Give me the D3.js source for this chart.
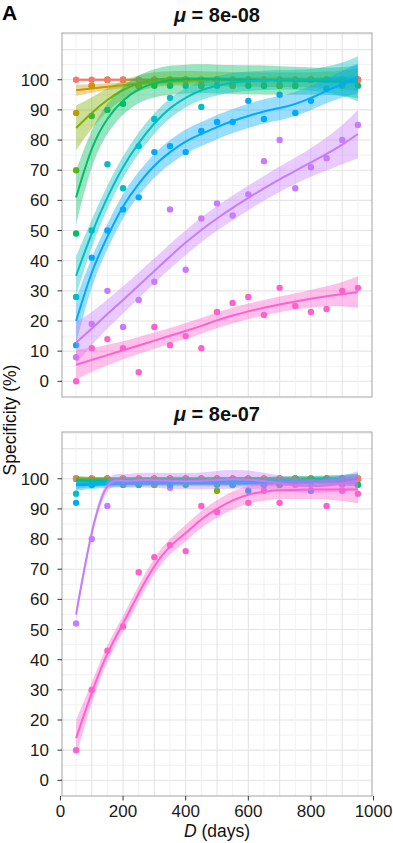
<!DOCTYPE html>
<html>
<head>
<meta charset="utf-8">
<script src="https://cdn.jsdelivr.net/npm/d3@7"></script>
<style>
  body { margin: 0; background: #fff; }
  svg { display: block; font-family: "Liberation Sans", Arial, sans-serif; }
</style>
</head>
<body>
<div id="chart"></div>
<script>
// Data
const colors = ['#F8766D', '#CD9600', '#7CAE00', '#00BE67', '#00BFC4', '#00A9FF', '#C77CFF', '#FF61CC'];
const days = [50, 100, 150, 200, 250, 300, 350, 400, 450, 500, 550, 600, 650, 700, 750, 800, 850, 900, 950];
const xTicks = [0, 200, 400, 600, 800, 1000];
const yTicks = [0, 10, 20, 30, 40, 50, 60, 70, 80, 90, 100];
const titles = ['8e-08', '8e-07'];

// mu = 8e-08
const topPoints = [
    [100, 100, 100, 100, 100, 100, 100, 100, 100, 100, 100, 100, 100, 100, 100, 100, 100, 100, 100],
    [89, 98, 100, 100, 98, 100, 100, 100, 100, 100, 98, 100, 100, 100, 100, 100, 100, 100, 100],
    [70, 98, 100, 100, 98, 100, 100, 100, 98, 100, 100, 100, 100, 98, 100, 100, 100, 100, 100],
    [49, 88, 90, 92, 98, 98, 98, 100, 98, 100, 100, 98, 98, 98, 98, 100, 100, 100, 98],
    [28, 50, 72, 64, 78, 87, 94, 98, 91, 98, 98, 100, 98, 100, 98, 100, 100, 98, 100],
    [12, 41, 50, 57, 61, 76, 78, 76, 83, 86, 86, 93, 87, 95, 89, 93, 97, 99, 100],
    [8, 19, 30, 18, 27, 33, 57, 37, 54, 59, 55, 62, 73, 80, 64, 71, 74, 80, 85],
    [0, 11, 14, 11, 3, 18, 12, 15, 11, 23, 26, 28, 22, 31, 25, 23, 24, 30, 31]
];
const topFit = [
    [100, 100, 100, 100, 100, 100, 100, 100, 100, 100, 100, 100, 100, 100, 100, 100, 100, 100, 100],
    [96.5, 97.1, 97.7, 98.2, 98.7, 99.1, 99.4, 99.7, 99.9, 100, 100, 100, 100, 100, 100, 100, 100, 100, 100],
    [84, 89, 93.3, 96.6, 98.8, 100, 100.4, 100.5, 100.4, 100.3, 100.2, 100.1, 100, 100, 100, 100, 100, 100, 100],
    [61, 77, 87, 93, 96.8, 98.8, 99.8, 100.2, 100.3, 100.2, 100.1, 100, 99.9, 99.8, 99.7, 99.6, 99.5, 99.4, 99.3],
    [35, 49, 61, 71, 79, 85.5, 90.5, 94, 96.5, 98, 99, 99.5, 99.8, 100, 100, 100, 100.1, 100.2, 100.3],
    [20, 36, 48, 58, 65.5, 71.5, 76, 79.5, 82, 84.3, 86.3, 88, 89.5, 90.6, 92, 94, 96.3, 98.5, 100.5],
    [12.8, 17.5, 22.3, 27, 31.8, 36.6, 41.4, 46, 50.2, 54, 57.5, 60.8, 64, 67, 69.8, 72.6, 75.4, 78.5, 82],
    [5.5, 7.1, 8.7, 10.3, 11.9, 13.5, 15.1, 16.7, 18.4, 20.2, 21.8, 23.2, 24.4, 25.5, 26.5, 27.4, 28.2, 28.9, 29.6]
];
const topBand = [
    [0.4, 0.4, 0.4, 0.4, 0.4, 0.4, 0.4, 0.4, 0.4, 0.4, 0.4, 0.4, 0.4, 0.4, 0.4, 0.4, 0.4, 0.4, 0.4],
    [1.8, 1.4, 1.1, 0.9, 0.8, 0.8, 0.8, 0.8, 0.8, 0.8, 0.8, 0.8, 0.8, 0.8, 0.8, 0.9, 1, 1.2, 1.5],
    [7.5, 5.2, 3.9, 3.1, 2.7, 2.5, 2.4, 2.4, 2.4, 2.4, 2.4, 2.4, 2.4, 2.4, 2.4, 2.5, 2.7, 3.1, 3.8],
    [9, 6.2, 5, 4.6, 4.6, 4.7, 4.8, 4.8, 4.8, 4.8, 4.8, 4.8, 4.8, 4.7, 4.6, 4.5, 4.5, 4.8, 5.5],
    [6.5, 4.6, 3.9, 3.6, 3.5, 3.4, 3.3, 3.2, 3.2, 3.2, 3.2, 3.2, 3.2, 3.2, 3.3, 3.6, 4.3, 5.5, 7.5],
    [7.5, 5, 4.2, 4, 4, 4, 4, 4, 4, 4, 4, 4, 4, 4, 4, 4, 4.1, 4.4, 5],
    [7, 5.5, 4.8, 4.5, 4.3, 4.2, 4.1, 4.1, 4.1, 4.1, 4.1, 4.1, 4.1, 4.2, 4.4, 4.8, 5.5, 6.5, 8],
    [5, 4, 3.4, 3, 2.8, 2.7, 2.6, 2.6, 2.6, 2.6, 2.6, 2.6, 2.6, 2.6, 2.7, 2.9, 3.3, 4, 5.2]
];

// mu = 8e-07
const bottomPoints = [
    [100, 100, 100, 100, 100, 100, 100, 100, 100, 100, 100, 100, 100, 100, 100, 100, 100, 100, 100],
    [100, 100, 100, 100, 100, 100, 100, 100, 100, 100, 100, 100, 100, 100, 100, 100, 100, 100, 100],
    [100, 100, 100, 98, 100, 98, 100, 100, 100, 96, 100, 100, 100, 100, 100, 100, 100, 100, 100],
    [100, 98, 100, 100, 98, 100, 100, 98, 100, 100, 100, 100, 100, 98, 100, 100, 100, 100, 98],
    [95, 98, 100, 100, 100, 98, 100, 100, 100, 98, 100, 100, 98, 100, 100, 100, 100, 100, 100],
    [92, 100, 100, 98, 98, 100, 98, 100, 100, 100, 98, 96, 98, 100, 100, 96, 100, 100, 100],
    [52, 80, 91, 100, 100, 100, 97, 100, 100, 100, 98, 100, 98, 98, 100, 98, 100, 98, 98],
    [10, 30, 43, 51, 69, 74, 78, 76, 91, 89, 98, 92, 96, 92, 98, 100, 91, 96, 95]
];
const bottomFit = [
    [100, 100, 100, 100, 100, 100, 100, 100, 100, 100, 100, 100, 100, 100, 100, 100, 100, 100, 100],
    [99.9, 99.9, 99.9, 99.9, 99.9, 99.9, 99.9, 99.9, 99.9, 99.9, 99.9, 99.9, 99.9, 99.9, 99.9, 99.9, 99.9, 99.9, 99.9],
    [99.4, 99.4, 99.4, 99.3, 99.3, 99.2, 99.2, 99.2, 99.1, 99.1, 99.2, 99.3, 99.4, 99.5, 99.6, 99.7, 99.8, 99.8, 99.9],
    [99.4, 99.3, 99.3, 99.3, 99.3, 99.3, 99.3, 99.3, 99.4, 99.4, 99.4, 99.4, 99.4, 99.4, 99.3, 99.3, 99.2, 99.1, 99],
    [98.2, 98.5, 98.8, 99, 99.2, 99.3, 99.4, 99.4, 99.4, 99.4, 99.4, 99.4, 99.4, 99.5, 99.6, 99.7, 99.8, 99.9, 100],
    [97.8, 98, 98.2, 98.3, 98.4, 98.5, 98.5, 98.5, 98.5, 98.5, 98.5, 98.5, 98.5, 98.6, 98.7, 98.9, 99.1, 99.4, 99.7],
    [55, 82, 97.5, 99.3, 99.5, 99.5, 99.3, 99.2, 99.3, 99.6, 99.8, 99.7, 99.2, 98.5, 97.9, 97.6, 97.8, 98.4, 99.3],
    [14, 29, 42, 52, 62, 71, 77.5, 82, 86.5, 90, 92.8, 94.7, 95.7, 96.2, 96.3, 96.4, 96.4, 96.4, 96.4]
];
const bottomBand = [
    [0.3, 0.3, 0.3, 0.3, 0.3, 0.3, 0.3, 0.3, 0.3, 0.3, 0.3, 0.3, 0.3, 0.3, 0.3, 0.3, 0.3, 0.3, 0.3],
    [0.4, 0.4, 0.4, 0.4, 0.4, 0.4, 0.4, 0.4, 0.4, 0.4, 0.4, 0.4, 0.4, 0.4, 0.4, 0.4, 0.4, 0.4, 0.4],
    [1.4, 1.2, 1.2, 1.2, 1.2, 1.2, 1.2, 1.2, 1.2, 1.2, 1.2, 1.2, 1.2, 1.2, 1.2, 1.2, 1.2, 1.3, 1.5],
    [1.4, 1.2, 1.2, 1.2, 1.2, 1.2, 1.2, 1.2, 1.2, 1.2, 1.2, 1.2, 1.2, 1.2, 1.2, 1.2, 1.2, 1.3, 1.5],
    [1.6, 1.3, 1.3, 1.3, 1.3, 1.3, 1.3, 1.3, 1.3, 1.3, 1.3, 1.3, 1.3, 1.3, 1.3, 1.3, 1.3, 1.4, 1.7],
    [1.8, 1.4, 1.2, 1.1, 1, 1, 1, 1, 1, 1, 1, 1, 1, 1, 1, 1.1, 1.3, 1.6, 2],
    [2, 1.6, 1.8, 2.2, 2.4, 2.5, 2.6, 2.7, 2.8, 3, 3.1, 3, 2.8, 2.6, 2.4, 2.3, 2.4, 2.7, 3.2],
    [6, 3.5, 2.8, 2.6, 2.6, 2.6, 2.6, 2.7, 2.8, 2.9, 3, 3, 3, 3, 3, 3.1, 3.3, 3.8, 4.5]
];

// Layout
const width = 393;
const height = 843;
const left = 62;
const right = 372;
const panels = [
    { top: 33, bottom: 397, points: topPoints, fit: topFit, band: topBand },
    { top: 432, bottom: 796, points: bottomPoints, fit: bottomFit, band: bottomBand }
];

const svg = d3.select('#chart')
    .append('svg')
    .attr('width', width)
    .attr('height', height);

svg.append('rect').attr('width', width).attr('height', height).attr('fill', '#fff');

const x = d3.scaleLinear().domain([5, 995]).range([left, right]);

panels.forEach((p, pi) => {
    const y = d3.scaleLinear().domain([-5.2, 115.5]).range([p.bottom, p.top]);
    const g = svg.append('g');

    svg.append('clipPath').attr('id', 'clip' + pi)
        .append('rect')
        .attr('x', left).attr('y', p.top)
        .attr('width', right - left).attr('height', p.bottom - p.top);

    // grid
    const hLines = d3.range(0, 116, 5);
    g.append('g')
        .selectAll('line')
        .data(hLines)
        .join('line')
        .attr('x1', left).attr('x2', right)
        .attr('y1', d => y(d)).attr('y2', d => y(d))
        .attr('stroke', d => d % 10 === 0 ? '#e4e4e4' : '#efefef')
        .attr('stroke-width', d => d % 10 === 0 ? 1.1 : 0.9);

    g.append('g')
        .selectAll('line')
        .data(days)
        .join('line')
        .attr('x1', d => x(d)).attr('x2', d => x(d))
        .attr('y1', p.top).attr('y2', p.bottom)
        .attr('stroke', d => d % 100 === 0 ? '#e4e4e4' : '#efefef')
        .attr('stroke-width', d => d % 100 === 0 ? 1.1 : 0.9);

    const plot = g.append('g').attr('clip-path', `url(#clip${pi})`);

    // points (last group first so the top row shows red)
    for (let k = colors.length - 1; k >= 0; k--) {
        plot.append('g')
            .selectAll('circle')
            .data(p.points[k])
            .join('circle')
            .attr('cx', (d, i) => x(days[i]))
            .attr('cy', d => y(d))
            .attr('r', 3.2)
            .attr('fill', colors[k]);
    }

    // smooth: ribbon + line per group
    colors.forEach((c, k) => {
        const fit = p.fit[k];
        const band = p.band[k];
        const area = d3.area()
            .curve(d3.curveNatural)
            .x((d, i) => x(days[i]))
            .y0((d, i) => y(fit[i] - band[i]))
            .y1((d, i) => y(fit[i] + band[i]));
        const line = d3.line()
            .curve(d3.curveNatural)
            .x((d, i) => x(days[i]))
            .y(d => y(d));

        plot.append('path')
            .attr('d', area(fit))
            .attr('fill', c)
            .attr('fill-opacity', 0.4);

        plot.append('path')
            .attr('d', line(fit))
            .attr('fill', 'none')
            .attr('stroke', c)
            .attr('stroke-width', 2);
    });

    // border
    g.append('rect')
        .attr('x', left).attr('y', p.top)
        .attr('width', right - left).attr('height', p.bottom - p.top)
        .attr('fill', 'none')
        .attr('stroke', '#a3a3a3')
        .attr('stroke-width', 1);

    // y axis
    const yAxis = g.append('g').attr('transform', `translate(${left},0)`);
    yAxis.selectAll('line')
        .data(yTicks)
        .join('line')
        .attr('x1', -4.5).attr('x2', 0)
        .attr('y1', d => y(d)).attr('y2', d => y(d))
        .attr('stroke', '#333');
    yAxis.selectAll('text')
        .data(yTicks)
        .join('text')
        .attr('x', -13)
        .attr('y', d => y(d))
        .attr('dy', '0.36em')
        .attr('text-anchor', 'end')
        .attr('font-size', 17)
        .attr('fill', '#1a1a1a')
        .text(d => d);

    // title
    const t = svg.append('text')
        .attr('x', (left + right) / 2)
        .attr('y', p.top - 11)
        .attr('text-anchor', 'middle')
        .attr('font-size', 20)
        .attr('font-weight', 'bold')
        .attr('fill', '#111');
    t.append('tspan').attr('font-style', 'italic').text('μ');
    t.append('tspan').text(' = ' + titles[pi]);
});

// x axis
const bottomY = panels[1].bottom;
const xAxis = svg.append('g').attr('transform', `translate(0,${bottomY})`);
xAxis.selectAll('line')
    .data(xTicks)
    .join('line')
    .attr('x1', d => x(d)).attr('x2', d => x(d))
    .attr('y1', 0).attr('y2', 4.5)
    .attr('stroke', '#333');
xAxis.selectAll('text')
    .data(xTicks)
    .join('text')
    .attr('x', d => x(d))
    .attr('y', 21)
    .attr('text-anchor', 'middle')
    .attr('font-size', 17)
    .attr('fill', '#1a1a1a')
    .text(d => d);

// x uom
const xl = svg.append('text')
    .attr('x', (left + right) / 2)
    .attr('y', 837)
    .attr('text-anchor', 'middle')
    .attr('font-size', 17.5)
    .attr('fill', '#111');
xl.append('tspan').attr('font-style', 'italic').text('D');
xl.append('tspan').text(' (days)');

// y uom
svg.append('text')
    .attr('transform', 'translate(16,420) rotate(-90)')
    .attr('text-anchor', 'middle')
    .attr('font-size', 17.5)
    .attr('fill', '#111')
    .text('Specificity (%)');

// panel tag
svg.append('text')
    .attr('x', 2)
    .attr('y', 20)
    .attr('font-size', 21)
    .attr('font-weight', 'bold')
    .attr('fill', '#000')
    .text('A');
</script>
</body>
</html>
